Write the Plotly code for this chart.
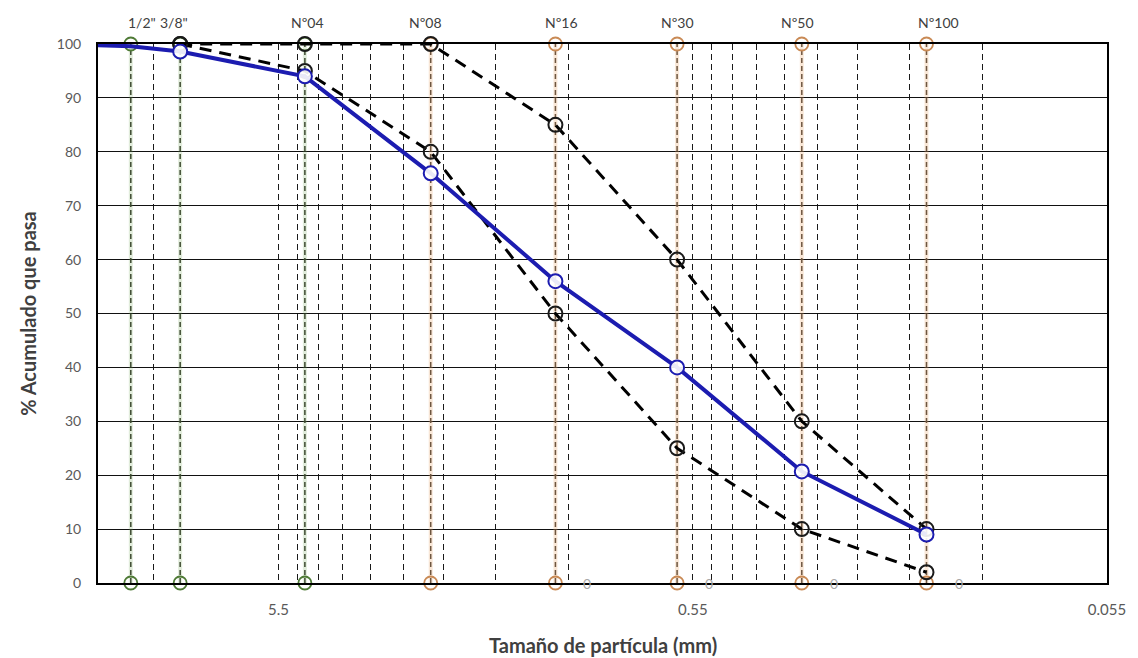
import numpy as np
import plotly.graph_objects as go

# ---------------- data ----------------
sieve_names = ['1/2"', '3/8"', 'Nº04', 'Nº08', 'Nº16', 'Nº30', 'Nº50', 'Nº100']
sieve_mm = [12.5, 9.5, 4.75, 2.36, 1.18, 0.60, 0.30, 0.15]
sieve_group = ['coarse', 'coarse', 'coarse', 'fine', 'fine', 'fine', 'fine', 'fine']

# blue gradation curve (% passing)
curve_mm = [19.0, 12.5, 9.5, 4.75, 2.36, 1.18, 0.60, 0.30, 0.15]
curve_pass = [100.0, 99.6, 98.6, 94.0, 76.0, 56.0, 40.0, 20.7, 9.0]
curve_marker_mm = [9.5, 4.75, 2.36, 1.18, 0.60, 0.30, 0.15]
curve_marker_pass = [98.6, 94.0, 76.0, 56.0, 40.0, 20.7, 9.0]

# specification limits
limit_mm = [9.5, 4.75, 2.36, 1.18, 0.60, 0.30, 0.15]
upper_pass = [100, 100, 100, 85, 60, 30, 10]
lower_pass = [100, 95, 80, 50, 25, 10, 2]

# zero data labels at the foot of the fine sieves
zero_label_mm = [1.18, 0.60, 0.30, 0.15]
zero_label_text = ['0', '0', '0', '0']

# x axis (log, reversed): major ticks and minor gridlines
x_grid_vals = [11.0, 5.5, 4.95, 4.4, 3.85, 3.3, 2.75, 2.2, 1.65, 1.1,
               0.55, 0.495, 0.44, 0.385, 0.33, 0.275, 0.22, 0.165, 0.11, 0.055]
x_grid_text = ['', '5.5', '', '', '', '', '', '', '', '',
               '0.55', '', '', '', '', '', '', '', '', '0.055']
x_min_mm, x_max_mm = 0.055, 15.0

y_ticks = [0, 10, 20, 30, 40, 50, 60, 70, 80, 90, 100]

# ---------------- styling ----------------
FONT = "Lato"
TICK_COLOR = "#595959"
TITLE_COLOR = "#404040"
GROUP_COLOR = {'coarse': '#4e7a35', 'fine': '#c98a55'}
GROUP_CORE = {'coarse': '#3d4a30', 'fine': '#6e5640'}
GROUP_HALO = {'coarse': 'rgba(120,170,90,0.22)', 'fine': 'rgba(235,170,110,0.28)'}
label_shift = [11, -6, 3, -5, 6, 0, -4, 12]

fig = go.Figure()

# sieve verticals (halo + dashed core + circles at 0 and 100)
for name, mm, grp in zip(sieve_names, sieve_mm, sieve_group):
    fig.add_trace(go.Scatter(
        x=[mm, mm], y=[0, 100], mode='lines',
        line=dict(color=GROUP_HALO[grp], width=4),
        hoverinfo='skip', showlegend=False))
    fig.add_trace(go.Scatter(
        x=[mm, mm], y=[0, 100], mode='lines+markers',
        line=dict(color=GROUP_CORE[grp], width=1.5, dash='5px,3px'),
        marker=dict(symbol='circle-open', size=13, color=GROUP_COLOR[grp],
                    line=dict(width=1.8, color=GROUP_COLOR[grp])),
        cliponaxis=False, hoverinfo='skip', showlegend=False))

# upper / lower limits
for vals in (upper_pass, lower_pass):
    fig.add_trace(go.Scatter(
        x=limit_mm, y=vals, mode='lines+markers',
        line=dict(color='black', width=3, dash='12px,8px'),
        marker=dict(symbol='circle', size=14, color='rgba(255,255,255,0)',
                    line=dict(width=2, color='#1a1a1a')),
        cliponaxis=False, showlegend=False, name='Límite'))

# blue curve
fig.add_trace(go.Scatter(
    x=curve_mm, y=curve_pass, mode='lines',
    line=dict(color='#1c1cb0', width=4),
    showlegend=False, name='Curva'))
fig.add_trace(go.Scatter(
    x=curve_marker_mm, y=curve_marker_pass, mode='markers',
    marker=dict(symbol='circle', size=14, color='rgba(255,255,255,0.9)',
                line=dict(width=2, color='#1c1cb0')),
    cliponaxis=False, showlegend=False, name='Curva'))

annotations = []
# zero data labels
for mm, txt in zip(zero_label_mm, zero_label_text):
    annotations.append(dict(
        x=np.log10(mm), y=0, xref='x', yref='y', text=txt, showarrow=False,
        xshift=32, yshift=0, font=dict(family=FONT, size=14, color='#a8a8a8')))

for name, mm, sh in zip(sieve_names, sieve_mm, label_shift):
    annotations.append(dict(
        x=np.log10(mm), y=100, xref='x', yref='y', text=name, showarrow=False,
        xshift=sh, yshift=22, font=dict(family=FONT, size=14, color=TITLE_COLOR)))

annotations.append(dict(
    x=0.5, y=-0.115, xref='paper', yref='paper', text='<b>Tamaño de partícula (mm)</b>',
    showarrow=False, yanchor='middle', font=dict(family=FONT, size=20, color=TITLE_COLOR)))
annotations.append(dict(
    x=-0.07, y=0.5, xref='paper', yref='paper', text='<b>% Acumulado que pasa</b>',
    showarrow=False, textangle=-90, xanchor='center',
    font=dict(family=FONT, size=20, color=TITLE_COLOR)))

# page body adds an 8px margin: figure is sized so it fits the 1138x658 window
fig.update_layout(
    width=1130, height=650,
    margin=dict(l=90, r=22, t=36, b=75),
    paper_bgcolor='white', plot_bgcolor='white',
    annotations=annotations,
    xaxis=dict(
        type='log', range=[np.log10(x_max_mm), np.log10(x_min_mm)],
        tickvals=x_grid_vals, ticktext=x_grid_text,
        showgrid=True, gridcolor='#1a1a1a', gridwidth=1.3, griddash='6px,4px',
        showline=True, linecolor='black', linewidth=2, mirror=True,
        ticks='', ticklabelstandoff=12,
        tickfont=dict(family=FONT, size=15, color=TICK_COLOR), zeroline=False),
    yaxis=dict(
        range=[0, 100], tickvals=y_ticks,
        showgrid=True, gridcolor='#111111', gridwidth=1.3,
        showline=True, linecolor='black', linewidth=2, mirror=True,
        ticks='', ticklabelstandoff=12,
        tickfont=dict(family=FONT, size=14, color=TICK_COLOR), zeroline=False),
)

fig.write_html("out.html")
